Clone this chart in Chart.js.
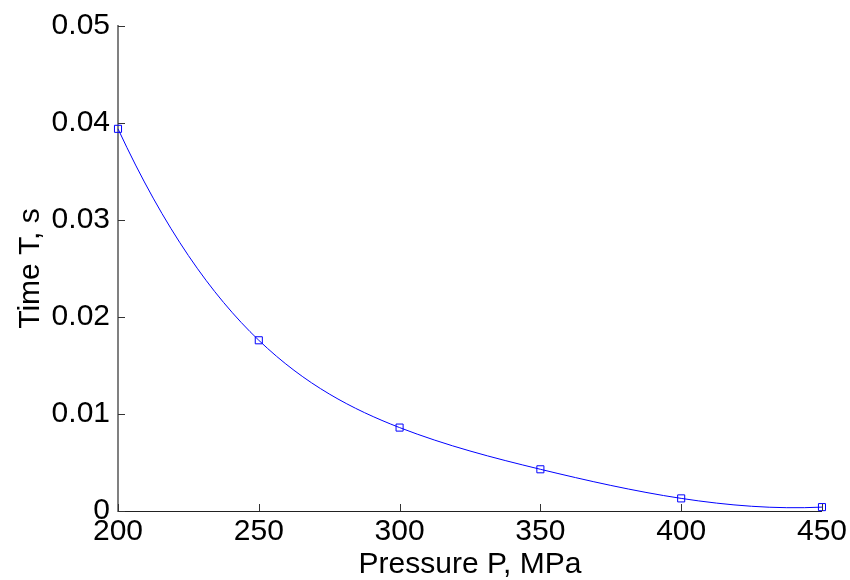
<!DOCTYPE html>
<html>
<head>
<meta charset="utf-8">
<script src="https://cdn.jsdelivr.net/npm/chart.js@4.4.1/dist/chart.umd.min.js"></script>
<style>
  html, body { margin: 0; padding: 0; background: #ffffff; }
  #wrap { width: 850px; height: 580px; }
</style>
</head>
<body>
<div id="wrap"><canvas id="chart" width="850" height="580"></canvas></div>
<script>
// data
const pressure = [200, 250, 300, 350, 400, 450];
const time = [0.0394, 0.0176, 0.0086, 0.0043, 0.0013, 0.0004];
const xTicks = [200, 250, 300, 350, 400, 450];
const yTicks = [0, 0.01, 0.02, 0.03, 0.04, 0.05];

const FONT = "'Liberation Sans', Arial, Helvetica, sans-serif";

// not-a-knot cubic spline slopes (what matlab's spline() does)
function splineSlopes(xs, ys) {
  const n = xs.length;
  const h = [];
  for (let i = 0; i < n - 1; i++) h.push(xs[i + 1] - xs[i]);
  const A = [];
  const b = [];
  for (let i = 0; i < n; i++) { A.push(new Array(n).fill(0)); b.push(0); }
  A[0][0] = h[1]; A[0][1] = -(h[0] + h[1]); A[0][2] = h[0];
  for (let i = 1; i < n - 1; i++) {
    A[i][i - 1] = h[i - 1];
    A[i][i] = 2 * (h[i - 1] + h[i]);
    A[i][i + 1] = h[i];
    b[i] = 6 * ((ys[i + 1] - ys[i]) / h[i] - (ys[i] - ys[i - 1]) / h[i - 1]);
  }
  A[n - 1][n - 3] = h[n - 2]; A[n - 1][n - 2] = -(h[n - 3] + h[n - 2]); A[n - 1][n - 1] = h[n - 3];
  // gaussian elimination with pivoting
  for (let c = 0; c < n; c++) {
    let p = c;
    for (let r = c + 1; r < n; r++) if (Math.abs(A[r][c]) > Math.abs(A[p][c])) p = r;
    [A[c], A[p]] = [A[p], A[c]]; [b[c], b[p]] = [b[p], b[c]];
    for (let r = c + 1; r < n; r++) {
      const f = A[r][c] / A[c][c];
      for (let k = c; k < n; k++) A[r][k] -= f * A[c][k];
      b[r] -= f * b[c];
    }
  }
  const M = new Array(n).fill(0);
  for (let r = n - 1; r >= 0; r--) {
    let s = b[r];
    for (let k = r + 1; k < n; k++) s -= A[r][k] * M[k];
    M[r] = s / A[r][r];
  }
  const m = [];
  for (let i = 0; i < n - 1; i++) m.push((ys[i + 1] - ys[i]) / h[i] - h[i] * (2 * M[i] + M[i + 1]) / 6);
  m.push((ys[n - 1] - ys[n - 2]) / h[n - 2] + h[n - 2] * (M[n - 2] + 2 * M[n - 1]) / 6);
  return m;
}

// swap chart.js's bezier control points for spline ones
const splineCurve = {
  id: 'splineCurve',
  beforeDatasetDraw(chart, args) {
    const line = args.meta.dataset;
    const pts = args.meta.data;
    line.updateControlPoints(chart.chartArea, 'x');
    const m = splineSlopes(pts.map(p => p.x), pts.map(p => p.y));
    for (let i = 0; i < pts.length; i++) {
      if (i > 0) {
        const hl = (pts[i].x - pts[i - 1].x) / 3;
        pts[i].cp1x = pts[i].x - hl;
        pts[i].cp1y = pts[i].y - m[i] * hl;
      }
      if (i < pts.length - 1) {
        const hr = (pts[i + 1].x - pts[i].x) / 3;
        pts[i].cp2x = pts[i].x + hr;
        pts[i].cp2y = pts[i].y + m[i] * hr;
      }
    }
  }
};

// small inward tick marks, like matlab
const innerTicks = {
  id: 'innerTicks',
  afterDraw(chart) {
    const ctx = chart.ctx;
    const x = chart.scales.x, y = chart.scales.y;
    const len = 7;
    ctx.save();
    ctx.strokeStyle = '#333333';
    ctx.lineWidth = 1;
    ctx.beginPath();
    xTicks.forEach(v => {
      const px = Math.round(x.getPixelForValue(v)) + 0.5;
      ctx.moveTo(px, y.bottom);
      ctx.lineTo(px, y.bottom - len);
    });
    yTicks.forEach(v => {
      const py = Math.round(y.getPixelForValue(v)) + 0.5;
      ctx.moveTo(x.left, py);
      ctx.lineTo(x.left + len, py);
    });
    ctx.stroke();
    ctx.restore();
  }
};

const ctx = document.getElementById('chart').getContext('2d');

const chart = new Chart(ctx, {
  type: 'line',
  data: {
    datasets: [{
      label: 'T(P)',
      data: pressure.map((p, i) => ({ x: p, y: time[i] })),
      borderColor: '#0000ff',
      borderWidth: 1,
      backgroundColor: 'rgba(0,0,0,0)',
      pointStyle: 'rect',
      pointRadius: 5,
      pointBorderColor: '#0000ff',
      pointBackgroundColor: 'rgba(0,0,0,0)',
      pointBorderWidth: 1,
      tension: 0.4,
      clip: false
    }]
  },
  options: {
    responsive: false,
    animation: false,
    elements: { line: { capBezierPoints: false } },
    layout: { padding: { top: 22, right: 27, left: 0, bottom: 0 } },
    plugins: {
      legend: { display: false },
      tooltip: { enabled: false }
    },
    scales: {
      x: {
        type: 'linear',
        min: 200,
        max: 450,
        afterFit: s => { s.height = 69; },
        afterBuildTicks: s => { s.ticks = xTicks.map(v => ({ value: v })); },
        ticks: {
          color: '#000000',
          font: { family: FONT, size: 30 },
          padding: 3,
          maxRotation: 0,
          callback: v => String(v)
        },
        grid: { drawOnChartArea: false, drawTicks: false },
        border: { color: '#222222', width: 1 },
        title: {
          display: true,
          text: 'Pressure P, MPa',
          color: '#000000',
          font: { family: FONT, size: 30, lineHeight: 1.05 },
          padding: { top: 0, bottom: 0 }
        }
      },
      y: {
        type: 'linear',
        min: 0,
        max: 0.05,
        afterFit: s => { s.width = 118; },
        afterBuildTicks: s => { s.ticks = yTicks.map(v => ({ value: v })); },
        ticks: {
          color: '#000000',
          font: { family: FONT, size: 30 },
          padding: 8,
          callback: v => (v === 0 ? '0' : v.toFixed(2))
        },
        grid: { drawOnChartArea: false, drawTicks: false },
        border: { color: '#808080', width: 2 },
        title: {
          display: true,
          text: 'Time T, s',
          color: '#000000',
          font: { family: FONT, size: 30 },
          padding: { top: 13, bottom: 0 }
        }
      }
    }
  },
  plugins: [splineCurve, innerTicks]
});
</script>
</body>
</html>
